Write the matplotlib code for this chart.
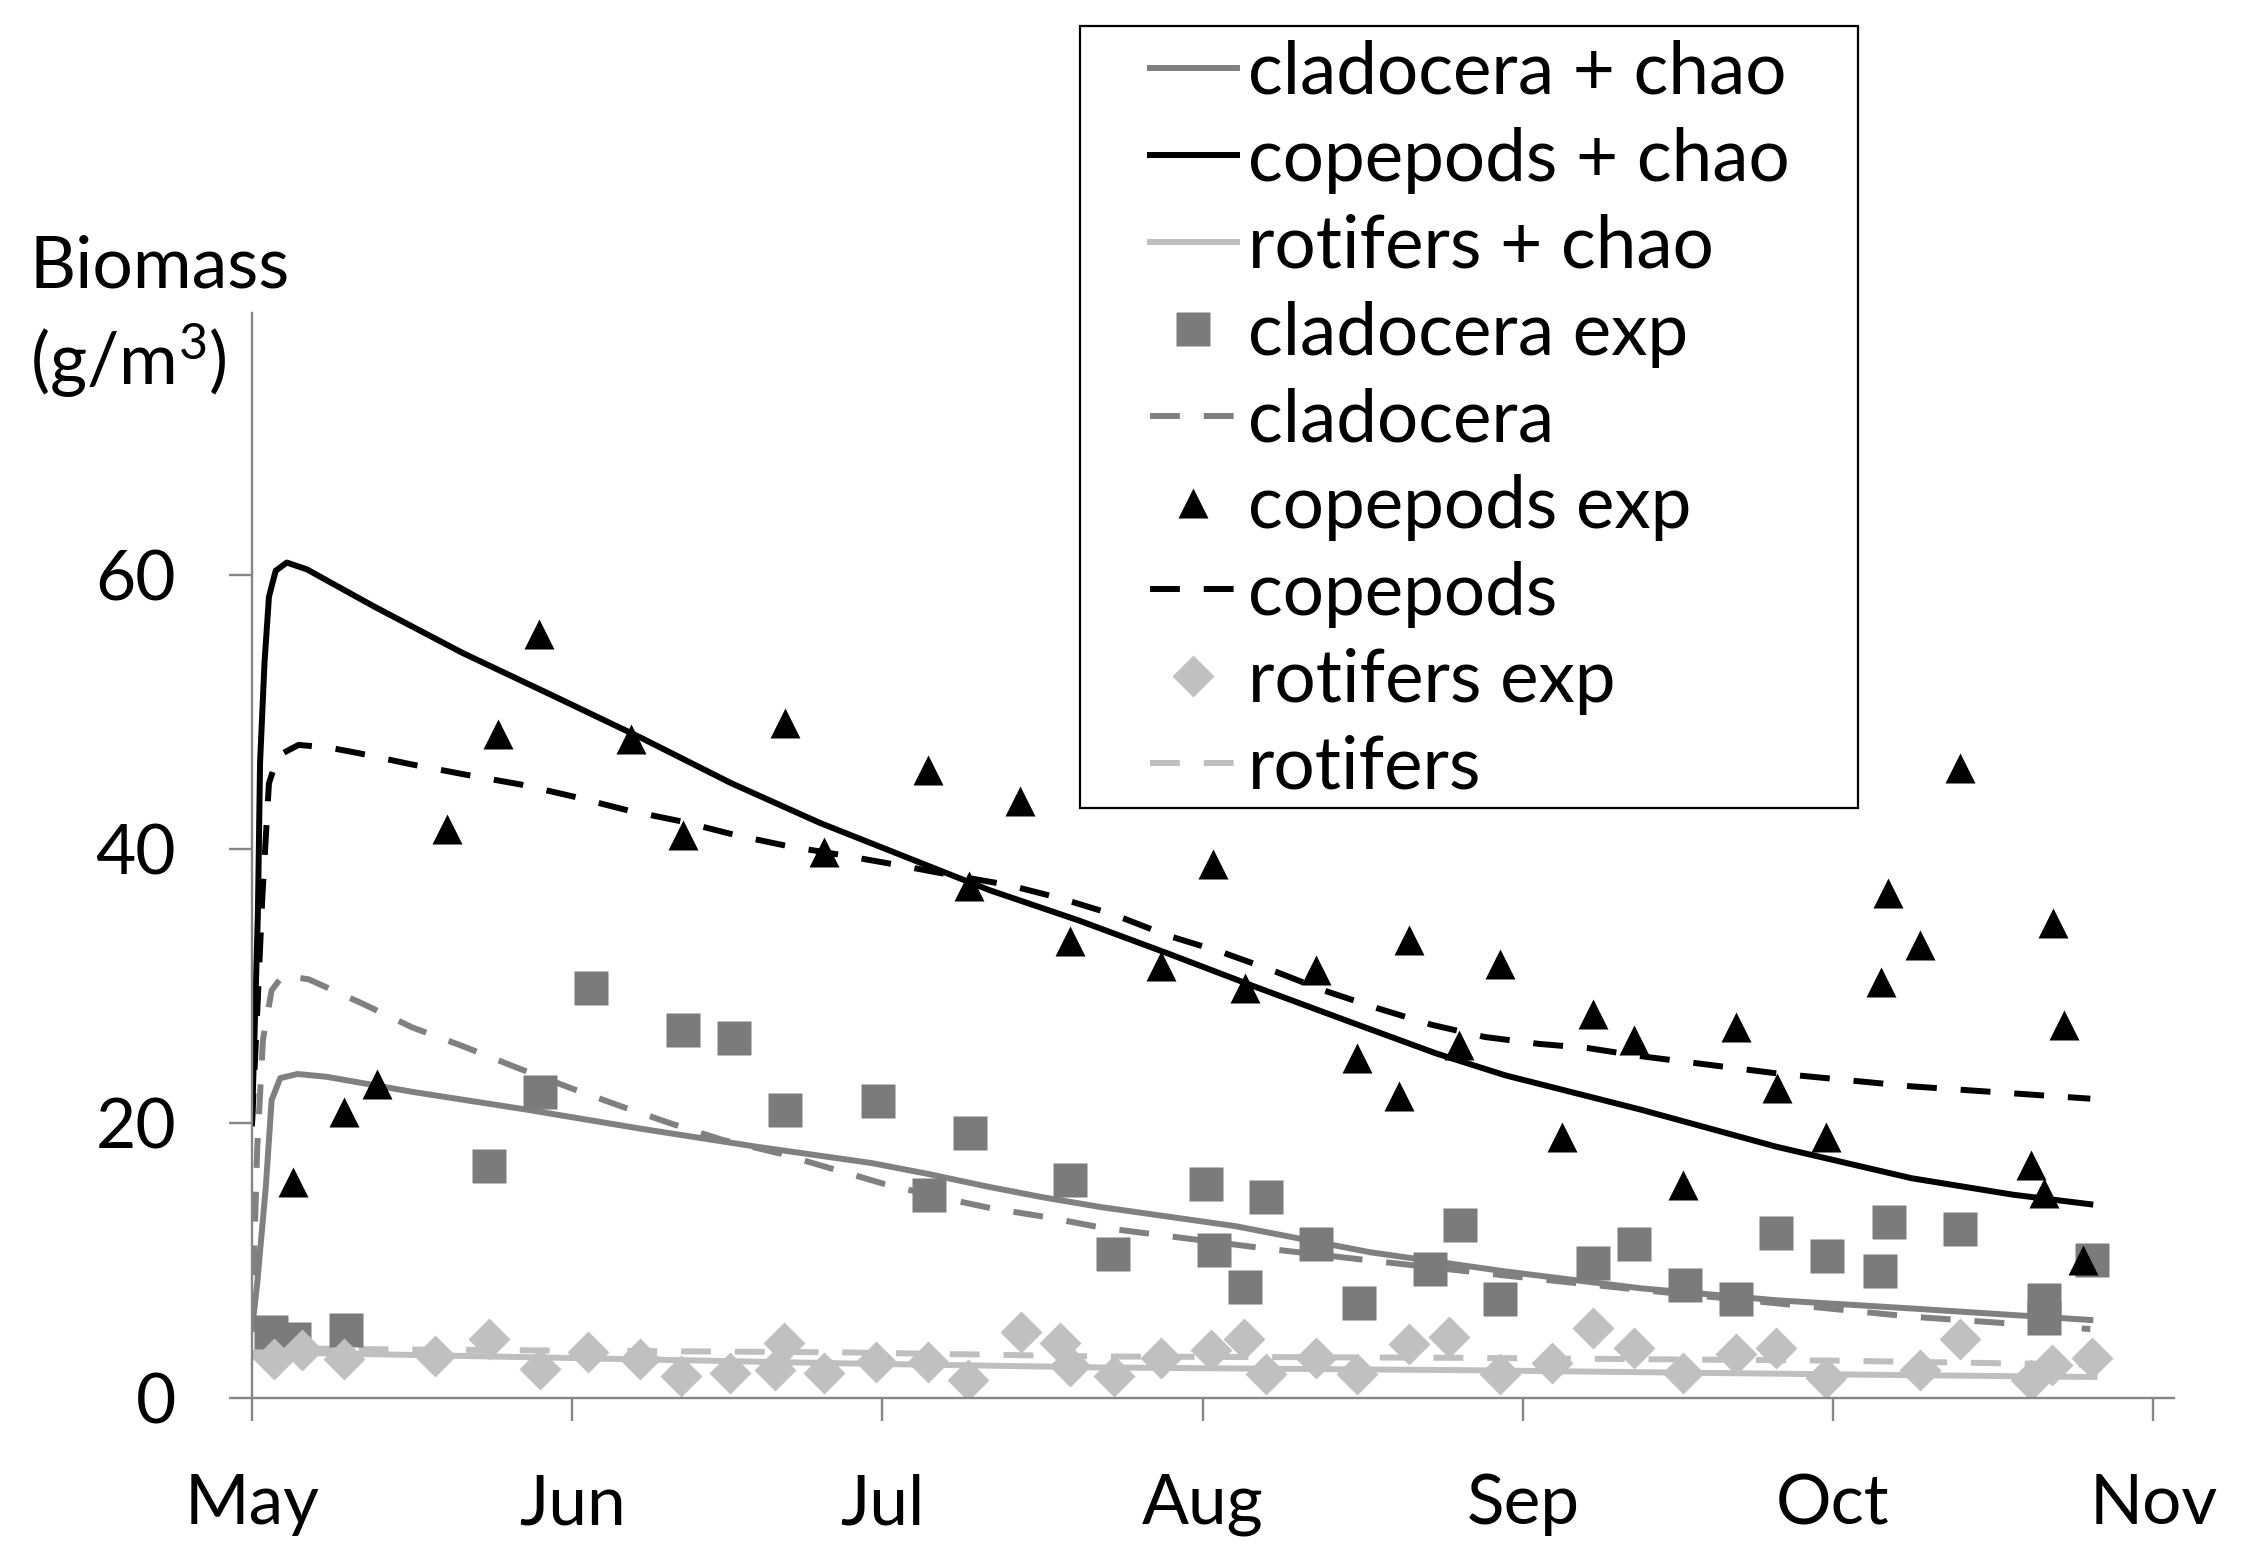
import matplotlib
matplotlib.use('Agg')
import matplotlib.pyplot as plt
from matplotlib.patches import Rectangle

plt.rcParams['font.family'] = ['Lato', 'DejaVu Sans']
plt.rcParams['mathtext.fontset'] = 'custom'
plt.rcParams['mathtext.rm'] = 'Lato'
plt.rcParams['mathtext.it'] = 'Lato:italic'
plt.rcParams['mathtext.bf'] = 'Lato:bold'

# ---- data (days since 1 May) ----
month_labels = ['May', 'Jun', 'Jul', 'Aug', 'Sep', 'Oct', 'Nov']
month_days = [0, 31, 61, 92, 123, 153, 184]

cop_exp_day = [4.0, 8.9, 12.1, 18.9, 23.8, 27.8, 36.7, 41.7, 51.6, 55.4, 65.4, 69.4, 74.3, 79.2,
               88.0, 93.0, 96.1, 103.0, 106.9, 111.0, 112.0, 116.8, 120.8, 126.8, 129.8, 133.7,
               138.5, 143.6, 147.6, 152.3, 157.6, 158.3, 161.4, 165.3, 172.2, 173.4, 174.3, 175.4, 177.2]
cop_exp_val = [15.7, 20.8, 22.9, 41.5, 48.4, 55.7, 48.0, 41.0, 49.2, 39.8, 45.8, 37.3, 43.5, 33.3,
               31.5, 38.9, 29.9, 31.2, 24.8, 22.0, 33.4, 25.7, 31.6, 19.0, 28.0, 26.1,
               15.5, 27.0, 22.6, 19.0, 30.3, 36.8, 33.0, 45.9, 17.0, 14.9, 34.6, 27.2, 10.0]

cla_exp_day = [1.8, 4.1, 9.1, 22.9, 27.9, 32.8, 41.7, 46.6, 51.6, 60.6, 65.5, 69.5, 79.2, 83.3,
               92.3, 93.1, 96.1, 98.1, 103.0, 107.1, 114.0, 116.9, 120.8, 129.8, 133.7, 138.7,
               143.6, 147.5, 152.4, 157.5, 158.4, 165.3, 173.4, 173.4, 178.1]
cla_exp_val = [4.8, 4.3, 4.9, 16.9, 22.3, 29.9, 26.8, 26.2, 21.0, 21.6, 14.8, 19.3, 15.9, 10.5,
               15.6, 10.8, 8.1, 14.6, 11.2, 6.9, 9.4, 12.6, 7.2, 9.8, 11.2, 8.2,
               7.2, 12.0, 10.3, 9.2, 12.8, 12.3, 7.1, 5.8, 10.0]

rot_exp_day = [2.1, 4.8, 8.9, 17.7, 22.9, 27.9, 32.5, 37.5, 41.5, 46.3, 51.5, 50.6, 55.4, 60.4,
               65.4, 69.3, 74.4, 78.2, 79.2, 83.4, 88.0, 92.8, 96.0, 98.1, 103.0, 106.9, 112.0,
               115.8, 120.8, 125.8, 129.8, 133.7, 138.5, 143.6, 147.5, 152.3, 161.4, 165.3,
               172.2, 174.2, 178.1]
rot_exp_val = [2.8, 3.5, 2.8, 3.0, 4.3, 2.1, 3.3, 2.8, 1.6, 1.8, 4.0, 2.0, 1.8, 2.6,
               2.6, 1.3, 4.8, 4.0, 2.3, 1.6, 2.9, 3.5, 4.3, 1.7, 2.9, 1.7, 3.9,
               4.4, 1.7, 2.5, 5.1, 3.6, 1.8, 3.2, 3.6, 1.4, 2.0, 4.3,
               1.3, 2.4, 2.9]

cop_chao_day = [0, 0.57, 0.78, 1.21, 1.64, 2.29, 3.37, 5.32, 11.8, 20.4, 29.1, 37.7, 46.4, 55.0,
                63.7, 71.4, 80.0, 88.6, 97.3, 105.9, 114.6, 121.3, 134.4, 147.5, 160.6, 170.4, 177.9]
cop_chao_val = [20, 35.3, 46.3, 53.6, 58.4, 60.3, 60.9, 60.4, 57.7, 54.3, 51.2, 48.1, 44.8, 41.9,
                39.3, 37.0, 34.8, 32.4, 29.9, 27.5, 25.1, 23.5, 21.0, 18.3, 16.0, 14.8, 14.1]

cop_day = [0, 0.5, 1.0, 1.64, 2.5, 4.5, 7.5, 10.3, 15.3, 20.9, 26.1, 31.3, 36.5, 41.7, 46.9, 52.0,
           56.8, 62.8, 67.0, 73.1, 78.3, 83.5, 88.6, 93.8, 98.6, 103.7, 108.9, 114.1, 119.3, 124.5,
           129.2, 134.4, 147.5, 160.6, 177.9]
cop_val = [20, 28, 36.5, 44.8, 46.8, 47.6, 47.4, 47.0, 46.2, 45.4, 44.7, 43.8, 42.8, 42.0, 41.0, 40.2,
           39.6, 38.8, 38.2, 37.4, 36.4, 35.2, 33.7, 32.5, 31.2, 29.7, 28.4, 27.2, 26.3, 25.8,
           25.5, 24.9, 23.65, 22.7, 21.8]

cla_chao_day = [0, 0.5, 1.34, 1.9, 2.73, 4.4, 7.2, 15.5, 26.6, 37.7, 48.8, 60.0, 65.5, 71.1, 76.6,
                82.1, 95.2, 108.2, 121.3, 134.4, 147.5, 160.6, 177.9]
cla_chao_val = [5, 8.3, 15.4, 21.7, 23.3, 23.6, 23.4, 22.3, 21.0, 19.6, 18.3, 17.1, 16.3, 15.4, 14.6,
                13.9, 12.5, 10.6, 9.2, 7.97, 7.1, 6.5, 5.66]

cla_day = [0, 0.5, 1.06, 1.9, 3.0, 5.5, 10.5, 15.5, 20.5, 25.5, 31.1, 35.5, 40.5, 45.5, 51.1, 56.1,
           61.1, 66.6, 71.6, 76.6, 82.2, 97.8, 108.2, 121.3, 134.4, 147.5, 160.6, 177.9]
cla_val = [5, 18.1, 26.1, 29.7, 30.8, 30.5, 28.8, 27.0, 25.6, 24.1, 22.5, 21.3, 20.0, 18.8, 17.8, 16.7,
           15.6, 14.6, 13.8, 13.2, 12.4, 10.9, 10.0, 8.9, 7.85, 6.88, 5.9, 5.0]

rot_chao_day = [0, 1.5, 16.4, 36.7, 57.1, 82.0, 117.3, 152.6, 178.3]
rot_chao_val = [3.0, 3.3, 3.1, 2.8, 2.5, 2.2, 2.0, 1.7, 1.5]

rot_day = [0, 1.5, 16.4, 36.7, 57.1, 82.0, 117.3, 152.6, 178.3]
rot_val = [3.2, 3.6, 3.5, 3.4, 3.3, 3.0, 2.9, 2.7, 2.4]

# ---- styles ----
C_CLA = '#808080'
C_COP = '#000000'
C_ROT = '#bfbfbf'
C_SQ = '#7b7b7b'
C_DI = '#c0c0c0'
LW = 4.3
DASH = (5, 4)

fig = plt.figure(figsize=(22.43, 15.58), dpi=100)
ax = fig.add_axes([252 / 2243, 1 - 1397.6 / 1558, (2174 - 252) / 2243, (1397.6 - 313) / 1558])

kw = dict(solid_joinstyle='round', dash_joinstyle='round')
l1, = ax.plot(cla_chao_day, cla_chao_val, color=C_CLA, lw=LW, **kw)
l2, = ax.plot(cop_chao_day, cop_chao_val, color=C_COP, lw=LW, **kw)
l3, = ax.plot(rot_chao_day, rot_chao_val, color=C_ROT, lw=LW, **kw)
l5, = ax.plot(cla_day, cla_val, color=C_CLA, lw=LW, dashes=DASH, **kw)
l7, = ax.plot(cop_day, cop_val, color=C_COP, lw=LW, dashes=DASH, **kw)
l9, = ax.plot(rot_day, rot_val, color=C_ROT, lw=LW, dashes=DASH, **kw)

m4, = ax.plot(cla_exp_day, cla_exp_val, ls='none', marker='s', ms=24.5, color=C_SQ, mec='none')
m6, = ax.plot(cop_exp_day, cop_exp_val, ls='none', marker='^', ms=22, color=C_COP, mec='none')
m8, = ax.plot(rot_exp_day, rot_exp_val, ls='none', marker='D', ms=21.5, color=C_DI, mec='none')

ax.set_xlim(0, 186)
ax.set_ylim(0, 79.1)
ax.set_xticks(month_days)
ax.set_xticklabels(month_labels)
ax.set_yticks([0, 20, 40, 60])

for s in ['top', 'right']:
    ax.spines[s].set_visible(False)
for s in ['left', 'bottom']:
    ax.spines[s].set_color('#868686')
    ax.spines[s].set_linewidth(1.7)
ax.tick_params(axis='both', direction='out', length=16.5, width=1.7, color='#868686',
               labelsize=50, labelcolor='black')
ax.tick_params(axis='x', pad=38)
ax.tick_params(axis='y', pad=38)

fig.text(30 / 2243, 1 - 288 / 1558, 'Biomass', fontsize=51.5, va='baseline', ha='left')
fig.text(30 / 2243, 1 - 385 / 1558, '(g/m$^{3}$)', fontsize=51.5, va='baseline', ha='left')

handles = [l1, l2, l3, m4, l5, m6, l7, m8, l9]
labels = ['cladocera + chao', 'copepods + chao', 'rotifers + chao', 'cladocera exp', 'cladocera',
          'copepods exp', 'copepods', 'rotifers exp', 'rotifers']
leg = fig.legend(handles, labels, loc='upper left', bbox_to_anchor=(1150 / 2243, 1 - 40 / 1558),
                 frameon=False, fontsize=52.5, borderpad=0, borderaxespad=0, handlelength=1.19,
                 handletextpad=0.15, labelspacing=0.272, numpoints=1)

fig.patches.append(Rectangle((1080 / 2243, 1 - 808 / 1558), (1858 - 1080) / 2243, (808 - 26) / 1558,
                             transform=fig.transFigure, fill=False, edgecolor='black', lw=1.6))

fig.savefig('out.png', dpi=100)
